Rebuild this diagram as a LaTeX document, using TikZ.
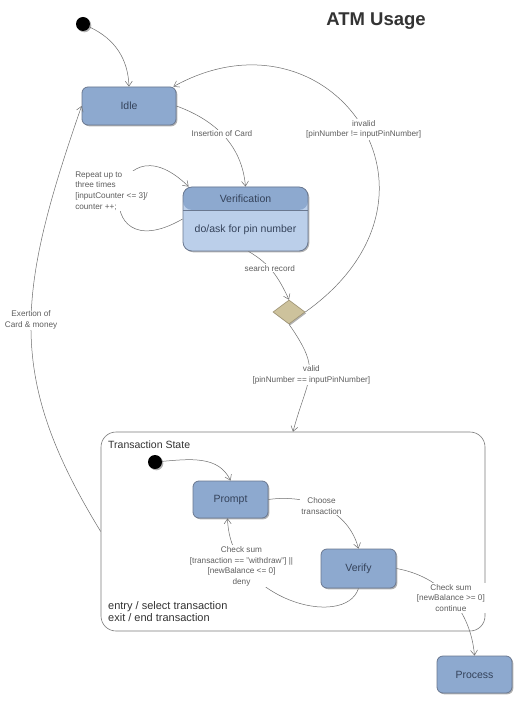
\documentclass[tikz,border=0pt]{standalone}
\usepackage{fontspec}
\setmainfont{Liberation Sans}
\usetikzlibrary{arrows.meta,shapes.geometric,shadows}
\definecolor{boxfill}{HTML}{8DA9CF}
\definecolor{boxedge}{HTML}{6A7890}
\definecolor{verbody}{HTML}{BBCFEA}
\definecolor{boxtext}{HTML}{34425A}
\definecolor{linegray}{HTML}{6E6E6E}
\definecolor{lblgray}{HTML}{5E5E5E}
\definecolor{diafill}{HTML}{CDC29C}
\definecolor{diaedge}{HTML}{9C9172}
\definecolor{tsedge}{HTML}{7A7A7A}
\definecolor{titlegray}{HTML}{333333}
\begin{document}
\begin{tikzpicture}[x=1pt,y=1pt,
  shadowsty/.style={drop shadow={shadow xshift=1.3pt,shadow yshift=-1.3pt,fill=black,opacity=0.3}},
  state/.style={draw=boxedge,line width=0.8pt,fill=boxfill,rounded corners=6pt,
    minimum width=75pt,minimum height=37pt,inner sep=0pt,
    font=\fontsize{10.5}{12}\selectfont,text=boxtext,shadowsty},
  boxtxt/.style={inner sep=0pt,font=\fontsize{10.5}{12}\selectfont,text=boxtext},
  conn/.style={draw=linegray,line width=0.5pt,-{Straight Barb[length=5pt,width=7pt]}},
  lbl/.style={fill=white,inner sep=1pt,font=\fontsize{8.2}{10.7}\selectfont,text=lblgray,align=center},
  dot/.style={circle,fill=black,minimum size=14pt,inner sep=0pt,shadowsty},
  plain/.style={inner sep=0pt,text=titlegray}
]
\useasboundingbox (0,0) rectangle (520,-703);
\fill[white] (0,0) rectangle (520,-703);

% title
\node[plain,font=\bfseries\fontsize{18.5}{20}\selectfont] (title) at (376,-21) {ATM Usage};

% top level states
\node[dot] (init) at (83,-24) {};
\node[state,minimum width=94pt,minimum height=38pt] (idle) at (129,-106) {Idle};
\node[state,minimum width=125pt,minimum height=64pt,rounded corners=9pt,fill=verbody,
  path picture={
    \fill[boxfill] (path picture bounding box.north west) rectangle ([yshift=-23pt]path picture bounding box.north east);
    \draw[boxedge,line width=0.6pt] ([yshift=-23pt]path picture bounding box.north west) -- ([yshift=-23pt]path picture bounding box.north east);
  }] (verif) at (245.5,-219) {};
\node[boxtxt] (veriftitle) at (245.5,-199) {Verification};
\node[boxtxt] (verifdo) at (245.5,-229.5) {do/ask for pin number};
\node[diamond,draw=diaedge,fill=diafill,line width=0.6pt,minimum width=32pt,minimum height=24pt,inner sep=0pt,shadowsty] (dia) at (289,-312) {};

% transaction state
\node[draw=tsedge,line width=0.6pt,rounded corners=15pt,minimum width=384pt,minimum height=199pt,inner sep=0pt] (ts) at (293,-531.5) {};
\node[plain,anchor=west,font=\fontsize{10.5}{12}\selectfont] (tstitle) at (108,-445) {Transaction State};
\node[plain,anchor=west,align=left,font=\fontsize{11}{12}\selectfont] (tsentry) at (108,-612) {entry / select transaction\\exit / end transaction};
\node[dot] (tsdot) at (155,-462) {};
\node[state] (prompt) at (230.5,-499.5) {Prompt};
\node[state,minimum height=39pt] (verify) at (358.5,-568.5) {Verify};
\node[state] (process) at (474.5,-674.5) {Process};

% connectors
\draw[conn] (init) to[out=-25,in=92] (idle.north);
\draw[conn] (idle.east) to[out=-20,in=95] node[lbl,pos=0.47] {Insertion of Card} (verif.north);
\draw[conn] (verif.west) .. controls (85,-275) and (110,-110) .. ([xshift=6pt]verif.north west)
  node[lbl,align=left,anchor=west,at={(74,-191)}] {Repeat up to\\three times\\{[inputCounter <= 3]/}\\counter ++;};
\draw[conn] ([xshift=3pt]verif.south) to[out=-30,in=115] node[lbl,pos=0.42] {search record} (dia.north);
\draw[conn] (dia.east) .. controls (470,-195) and (330,0) .. ([xshift=-3pt]idle.north east)
  node[lbl,pos=0.48] {invalid\\{[pinNumber != inputPinNumber]}};
\draw[conn] (dia.south) to[out=-55,in=75,looseness=1.4] node[lbl,pos=0.5,xshift=2pt] {valid\\{[pinNumber == inputPinNumber]}} (ts.north);
\draw[conn] (ts.west) .. controls (6,-377) and (16,-295) .. (idle.west)
  node[lbl,pos=0.53] {Exertion of\\Card \& money};

\draw[conn] (tsdot) to[out=5,in=115] (prompt.north);
\draw[conn] (prompt.east) to[out=8,in=105] node[lbl,pos=0.47] {Choose\\transaction} (verify.north);
\draw[conn] (verify.south) .. controls (345,-630) and (230,-600) .. ([xshift=-3pt]prompt.south)
  node[lbl,pos=0.77,xshift=-3pt] {Check sum\\{[transaction == "withdraw"] ||}\\{[newBalance <= 0]}\\deny};
\draw[conn] (verify.east) to[out=-10,in=95] node[lbl,pos=0.5] {Check sum\\{[newBalance >= 0]}\\continue} (process.north);
\end{tikzpicture}
\end{document}
